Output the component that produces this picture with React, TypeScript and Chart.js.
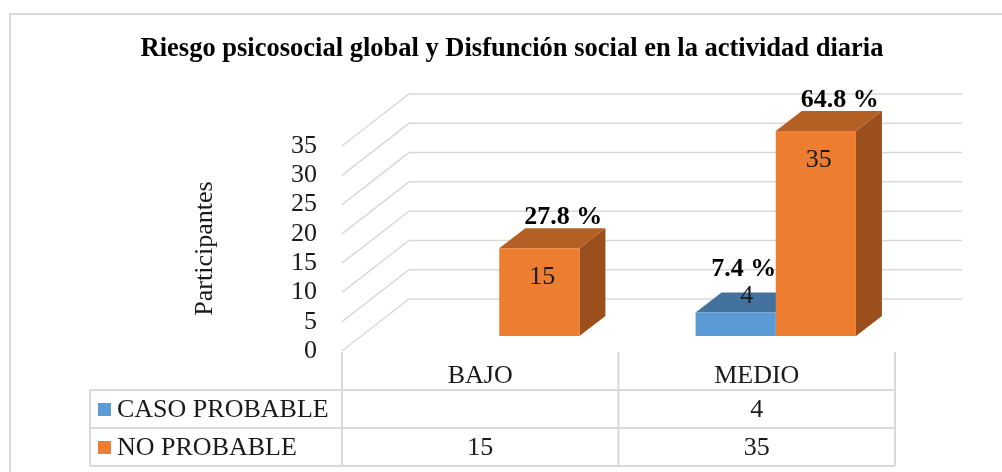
import React, { useEffect, useRef } from 'react';
import { Chart, registerables } from 'chart.js';

Chart.register(...registerables);

// ---------- DATA ----------
const chartTitle = 'Riesgo psicosocial global y Disfunción social en la actividad diaria';
const axisTitle = 'Participantes';
const categories = ['BAJO', 'MEDIO'];
const seriesNames = ['CASO PROBABLE', 'NO PROBABLE'];
const casoProbable: (number | null)[] = [null, 4];
const noProbable: (number | null)[] = [15, 35];
const casoPercent = ['', '7.4 %'];
const noPercent = ['27.8 %', '64.8 %'];
const yMin = 0;
const yMax = 35;
const yStep = 5;

// ---------- STYLE ----------
const FONT = '"Liberation Serif", "Times New Roman", serif';
const GRID = '#d9d9d9';
const frontColors = ['#5b9bd5', '#ed7d31'];
const topColors = ['#44729f', '#b45f23'];
const sideColors = ['#3a6690', '#9a4f1d'];
const percents = [casoPercent, noPercent];

const BAR_DX = 19, BAR_DY = -15; // bar plane offset from front plane
const DEPTH_DX = 26, DEPTH_DY = -20; // bar depth
const WALL_DX = 67, WALL_DY = -52; // back wall offset

function barRect(el: any) {
  const p = el.getProps(['x', 'y', 'base', 'width'], true);
  return {
    L: p.x - p.width / 2 + BAR_DX,
    R: p.x + p.width / 2 + BAR_DX,
    T: p.y + BAR_DY,
    B: p.base + BAR_DY,
    C: p.x + BAR_DX,
  };
}

const plugin3d = {
  id: 'plugin3d',
  beforeDraw(chart: any) {
    const { ctx, chartArea, scales } = chart;
    ctx.save();
    ctx.fillStyle = '#fff';
    ctx.fillRect(0, 0, chart.width, chart.height);
    // outer frame
    ctx.strokeStyle = GRID;
    ctx.lineWidth = 2;
    ctx.beginPath();
    ctx.moveTo(10, chart.height + 2);
    ctx.lineTo(10, 14);
    ctx.lineTo(chart.width + 2, 14);
    ctx.stroke();
    // title
    ctx.fillStyle = '#000';
    ctx.font = `bold 26.5px ${FONT}`;
    ctx.textAlign = 'center';
    ctx.textBaseline = 'middle';
    ctx.fillText(chartTitle, 512, 49);
    // back wall gridlines
    const y = scales.y;
    ctx.strokeStyle = GRID;
    ctx.lineWidth = 1.5;
    y.ticks.forEach((t: any) => {
      const py = y.getPixelForValue(t.value);
      ctx.beginPath();
      ctx.moveTo(chartArea.left, py);
      ctx.lineTo(chartArea.left + WALL_DX, py + WALL_DY);
      ctx.lineTo(chartArea.right + WALL_DX, py + WALL_DY);
      ctx.stroke();
    });
    ctx.restore();
  },
  beforeDatasetsDraw(chart: any) {
    const { ctx } = chart;
    ctx.save();
    chart.data.datasets.forEach((ds: any, di: number) => {
      const meta = chart.getDatasetMeta(di);
      meta.data.forEach((el: any, i: number) => {
        if (ds.data[i] == null) return;
        const { L, R, T, B } = barRect(el);
        // side
        ctx.fillStyle = sideColors[di];
        ctx.beginPath();
        ctx.moveTo(R, T);
        ctx.lineTo(R + DEPTH_DX, T + DEPTH_DY);
        ctx.lineTo(R + DEPTH_DX, B + DEPTH_DY);
        ctx.lineTo(R, B);
        ctx.closePath();
        ctx.fill();
        // top
        ctx.fillStyle = topColors[di];
        ctx.beginPath();
        ctx.moveTo(L, T);
        ctx.lineTo(L + DEPTH_DX, T + DEPTH_DY);
        ctx.lineTo(R + DEPTH_DX, T + DEPTH_DY);
        ctx.lineTo(R, T);
        ctx.closePath();
        ctx.fill();
      });
    });
    ctx.restore();
    ctx.save();
    ctx.translate(BAR_DX, BAR_DY);
  },
  afterDatasetsDraw(chart: any) {
    const { ctx } = chart;
    ctx.restore();
    ctx.save();
    ctx.textAlign = 'center';
    ctx.textBaseline = 'middle';
    chart.data.datasets.forEach((ds: any, di: number) => {
      const meta = chart.getDatasetMeta(di);
      meta.data.forEach((el: any, i: number) => {
        const v = ds.data[i];
        if (v == null) return;
        const { C, T, B } = barRect(el);
        const tall = B - T > 40;
        ctx.fillStyle = '#1a1a1a';
        ctx.font = `26px ${FONT}`;
        if (tall) ctx.fillText(String(v), C + 3, T + 29);
        else ctx.fillText(String(v), C + 11, T - 16);
        ctx.fillStyle = '#000';
        ctx.font = `bold 26px ${FONT}`;
        const pct = percents[di][i];
        if (pct) {
          if (tall) ctx.fillText(pct, C + 24, T - 31);
          else ctx.fillText(pct, C + 8, T - 43);
        }
      });
    });
    ctx.restore();
  },
  afterDraw(chart: any) {
    const { ctx, chartArea, scales } = chart;
    const x = scales.x;
    const left = chartArea.left;
    const right = chartArea.right;
    const mid = (x.getPixelForValue(0) + x.getPixelForValue(1)) / 2;
    const bounds = [left, mid, right];
    const rows = [chartArea.bottom + 39, chartArea.bottom + 77, chartArea.bottom + 115];
    const tableLeft = 90;
    ctx.save();
    ctx.strokeStyle = GRID;
    ctx.lineWidth = 2;
    ctx.beginPath();
    bounds.forEach((bx) => {
      ctx.moveTo(bx, chartArea.bottom + 1);
      ctx.lineTo(bx, rows[2]);
    });
    ctx.moveTo(tableLeft, rows[0]);
    ctx.lineTo(tableLeft, rows[2]);
    rows.forEach((ry) => {
      ctx.moveTo(tableLeft, ry);
      ctx.lineTo(right, ry);
    });
    ctx.stroke();

    ctx.fillStyle = '#1a1a1a';
    ctx.font = `26px ${FONT}`;
    ctx.textAlign = 'center';
    ctx.textBaseline = 'middle';
    categories.forEach((c, i) => {
      ctx.fillText(c, x.getPixelForValue(i), chartArea.bottom + 25);
    });
    const rowData = [casoProbable, noProbable];
    rowData.forEach((arr, r) => {
      const cy = (rows[r] + rows[r + 1]) / 2 + 1;
      arr.forEach((v, i) => {
        if (v == null) return;
        ctx.fillText(String(v), x.getPixelForValue(i), cy);
      });
      // legend key
      ctx.fillStyle = frontColors[r];
      ctx.fillRect(98, cy - 7, 13, 13);
      ctx.fillStyle = '#1a1a1a';
      ctx.textAlign = 'left';
      ctx.fillText(seriesNames[r], 117, cy);
      ctx.textAlign = 'center';
    });
    ctx.restore();
  },
};

export default function App() {
  const ref = useRef<HTMLCanvasElement>(null);
  useEffect(() => {
    document.body.style.margin = '0';
    const chart = new Chart(ref.current as HTMLCanvasElement, {
      type: 'bar',
      data: {
        labels: categories,
        datasets: [
          {
            label: seriesNames[0],
            data: casoProbable,
            backgroundColor: frontColors[0],
            borderWidth: 0,
            categoryPercentage: 0.58,
            barPercentage: 1,
            clip: false,
          } as any,
          {
            label: seriesNames[1],
            data: noProbable,
            backgroundColor: frontColors[1],
            borderWidth: 0,
            categoryPercentage: 0.58,
            barPercentage: 1,
            clip: false,
          } as any,
        ],
      },
      options: {
        responsive: false,
        animation: false,
        devicePixelRatio: 1,
        events: [],
        layout: { padding: { left: 0, top: 146, right: 107, bottom: 121 } },
        plugins: {
          legend: { display: false },
          tooltip: { enabled: false },
          title: { display: false },
        },
        scales: {
          x: { display: false, offset: true },
          y: {
            min: yMin,
            max: yMax,
            grid: { display: false, drawTicks: false },
            border: { display: false },
            ticks: {
              stepSize: yStep,
              autoSkip: false,
              padding: 25,
              color: '#1a1a1a',
              font: { family: FONT, size: 26 },
            },
            title: {
              display: true,
              text: axisTitle,
              color: '#1a1a1a',
              font: { family: FONT, size: 26 },
              padding: { top: 190, bottom: 0 },
            },
            afterFit: (axis: any) => {
              axis.width = 342;
            },
          },
        },
      },
      plugins: [plugin3d],
    });
    return () => chart.destroy();
  }, []);
  return (
    <div style={{ width: 1002, height: 472, position: 'relative' }}>
      <canvas ref={ref} width={1002} height={472} style={{ display: 'block', width: 1002, height: 472 }} />
    </div>
  );
}
